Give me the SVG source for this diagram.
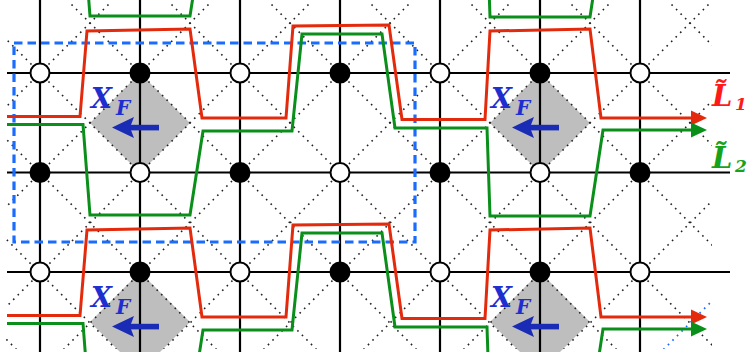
<svg xmlns="http://www.w3.org/2000/svg" width="749" height="352" viewBox="0 0 749 352">
<style>
.dot{stroke:#222;stroke-width:1.6;stroke-dasharray:1.6 4.8;fill:none}
.bdot{stroke:#1a6cff;stroke-width:1.8;stroke-dasharray:1.6 4.8;fill:none}
.grid{stroke:#000;stroke-width:2.2;fill:none}
.dia{fill:#bebebe}
.op{fill:#fff;stroke:#000;stroke-width:2}
.fi{fill:#000;stroke:#000;stroke-width:2}
.red{stroke:#e42a0c;stroke-width:3;fill:none;stroke-linejoin:miter}
.grn{stroke:#0a8f1a;stroke-width:3;fill:none;stroke-linejoin:miter}
.box{stroke:#1a6cff;stroke-width:3.2;stroke-dasharray:8.5 5;fill:none}
.xf{font-family:"DejaVu Serif","Liberation Serif",serif;font-weight:bold;font-style:italic;fill:#1e2ecf}
.arr{fill:#1a2bb5}
.lab{font-family:"DejaVu Serif","Liberation Serif",serif;font-weight:bold;font-style:italic}
</style>
<defs>
<clipPath id="clipd"><rect x="6" y="3" width="706" height="346"/></clipPath>
<marker id="ahr" markerUnits="userSpaceOnUse" markerWidth="16" markerHeight="16" viewBox="0 0 16 16" refX="2" refY="8" orient="auto"><path d="M0,0.5 L16,8 L0,15.5 z" fill="#e42a0c"/></marker>
<marker id="ahg" markerUnits="userSpaceOnUse" markerWidth="16" markerHeight="16" viewBox="0 0 16 16" refX="2" refY="8" orient="auto"><path d="M0,0.5 L16,8 L0,15.5 z" fill="#0a8f1a"/></marker>
<g id="xfarrow"><path class="arr" d="M112,127.5 L134,117 L130,127.5 L134,138 z"/><rect class="arr" x="129" y="124.8" width="30" height="5.6"/></g>
</defs>

<g id="diamonds">
<polygon class="dia" points="140,73 190,123 140,173 90,123"/>
<polygon class="dia" points="540,73 590,123 540,173 490,123"/>
<polygon class="dia" points="140,272 190,322 140,372 90,322"/>
<polygon class="dia" points="540,272 590,322 540,372 490,322"/>
</g>

<g id="dotted" clip-path="url(#clipd)">
<line class="dot" x1="-333" y1="0" x2="19" y2="352"/>
<line class="dot" x1="-233" y1="0" x2="119" y2="352"/>
<line class="dot" x1="-133" y1="0" x2="219" y2="352"/>
<line class="dot" x1="-33" y1="0" x2="319" y2="352"/>
<line class="dot" x1="67" y1="0" x2="419" y2="352"/>
<line class="dot" x1="167" y1="0" x2="519" y2="352"/>
<line class="dot" x1="267" y1="0" x2="619" y2="352"/>
<line class="dot" x1="367" y1="0" x2="719" y2="352"/>
<line class="dot" x1="467" y1="0" x2="819" y2="352"/>
<line class="dot" x1="567" y1="0" x2="919" y2="352"/>
<line class="dot" x1="667" y1="0" x2="1019" y2="352"/>
<line class="dot" x1="113" y1="0" x2="-239" y2="352"/>
<line class="dot" x1="213" y1="0" x2="-139" y2="352"/>
<line class="dot" x1="313" y1="0" x2="-39" y2="352"/>
<line class="dot" x1="413" y1="0" x2="61" y2="352"/>
<line class="dot" x1="513" y1="0" x2="161" y2="352"/>
<line class="dot" x1="613" y1="0" x2="261" y2="352"/>
<line class="dot" x1="713" y1="0" x2="361" y2="352"/>
<line class="dot" x1="813" y1="0" x2="461" y2="352"/>
<line class="dot" x1="913" y1="0" x2="561" y2="352"/>
<line class="bdot" x1="1013" y1="0" x2="661" y2="352"/>
</g>

<g id="grid">
<line class="grid" x1="40" y1="0" x2="40" y2="352"/>
<line class="grid" x1="140" y1="0" x2="140" y2="352"/>
<line class="grid" x1="240" y1="0" x2="240" y2="352"/>
<line class="grid" x1="340" y1="0" x2="340" y2="352"/>
<line class="grid" x1="440" y1="0" x2="440" y2="352"/>
<line class="grid" x1="540" y1="0" x2="540" y2="352"/>
<line class="grid" x1="640" y1="0" x2="640" y2="352"/>
<line class="grid" x1="7" y1="73" x2="730" y2="73"/>
<line class="grid" x1="7" y1="172.5" x2="730" y2="172.5"/>
<line class="grid" x1="7" y1="272" x2="730" y2="272"/>
</g>

<g id="region">
<rect class="box" x="14" y="43" width="401" height="199"/>
</g>

<g id="connectors">
<polyline class="grn" transform="translate(0,-199)" points="7,124.5 83,124.5 90,215 190,215 203,131 292,131 302,34 382,34 395,128 487,128 490,216 590,216 603,130 693,130"/>
<polyline id="L1a" class="red" marker-end="url(#ahr)" points="7,116.5 80,116.5 87,31 190,29 202,118 286,118 293,26 389,25 402,119.5 485,119.5 490,31 590,29 601,118 693,118"/>
<polyline id="L2a" class="grn" marker-end="url(#ahg)" points="7,124.5 83,124.5 90,215 190,215 203,131 292,131 302,34 382,34 395,128 487,128 490,216 590,216 603,130 693,130"/>
<polyline id="L1b" class="red" marker-end="url(#ahr)" transform="translate(0,199)" points="7,116.5 80,116.5 87,31 190,29 202,118 286,118 293,26 389,25 402,119.5 485,119.5 490,31 590,29 601,118 693,118"/>
<polyline id="L2b" class="grn" marker-end="url(#ahg)" transform="translate(0,199)" points="7,124.5 83,124.5 90,215 190,215 203,131 292,131 302,34 382,34 395,128 487,128 490,216 590,216 603,130 693,130"/>
</g>

<g id="nodes">
<g id="n1"><circle class="op" cx="40" cy="73" r="9.5"/></g>
<g id="n2"><circle class="fi" cx="140" cy="73" r="9.5"/></g>
<g id="n3"><circle class="op" cx="240" cy="73" r="9.5"/></g>
<g id="n4"><circle class="fi" cx="340" cy="73" r="9.5"/></g>
<g id="n5"><circle class="op" cx="440" cy="73" r="9.5"/></g>
<g id="n6"><circle class="fi" cx="540" cy="73" r="9.5"/></g>
<g id="n7"><circle class="op" cx="640" cy="73" r="9.5"/></g>
<g id="n8"><circle class="fi" cx="40" cy="172.5" r="9.5"/></g>
<g id="n9"><circle class="op" cx="140" cy="172.5" r="9.5"/></g>
<g id="n10"><circle class="fi" cx="240" cy="172.5" r="9.5"/></g>
<g id="n11"><circle class="op" cx="340" cy="172.5" r="9.5"/></g>
<g id="n12"><circle class="fi" cx="440" cy="172.5" r="9.5"/></g>
<g id="n13"><circle class="op" cx="540" cy="172.5" r="9.5"/></g>
<g id="n14"><circle class="fi" cx="640" cy="172.5" r="9.5"/></g>
<g id="n15"><circle class="op" cx="40" cy="272" r="9.5"/></g>
<g id="n16"><circle class="fi" cx="140" cy="272" r="9.5"/></g>
<g id="n17"><circle class="op" cx="240" cy="272" r="9.5"/></g>
<g id="n18"><circle class="fi" cx="340" cy="272" r="9.5"/></g>
<g id="n19"><circle class="op" cx="440" cy="272" r="9.5"/></g>
<g id="n20"><circle class="fi" cx="540" cy="272" r="9.5"/></g>
<g id="n21"><circle class="op" cx="640" cy="272" r="9.5"/></g>
</g>

<g id="xf1"><use href="#xfarrow"/><text class="xf" x="91" y="108" font-size="27">X<tspan x="116" y="115" font-size="20">F</tspan></text></g>
<g id="xf2"><use href="#xfarrow" x="400"/><text class="xf" x="491" y="108" font-size="27">X<tspan x="516" y="115" font-size="20">F</tspan></text></g>
<g id="xf3"><use href="#xfarrow" y="199"/><text class="xf" x="91" y="307" font-size="27">X<tspan x="116" y="314" font-size="20">F</tspan></text></g>
<g id="xf4"><use href="#xfarrow" x="400" y="199"/><text class="xf" x="491" y="307" font-size="27">X<tspan x="516" y="314" font-size="20">F</tspan></text></g>

<g id="labelL1"><text class="lab" x="712" y="106" font-size="29" fill="#ff1a1a">L̃<tspan x="735" y="110" font-size="17">1</tspan></text></g>
<g id="labelL2"><text class="lab" x="712" y="168" font-size="29" fill="#16a31b">L̃<tspan x="735" y="172" font-size="17">2</tspan></text></g>
</svg>
